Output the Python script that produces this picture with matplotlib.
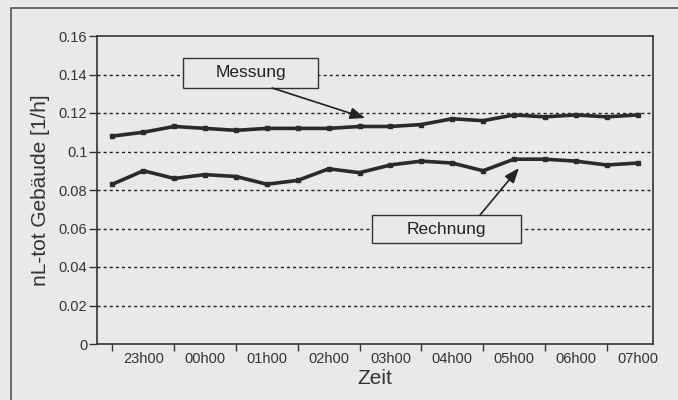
import numpy as np
import matplotlib.pyplot as plt
from matplotlib.patches import Rectangle

plt.rcParams['font.family'] = ['Liberation Sans', 'DejaVu Sans']

# Halbstundenwerte 22h30 .. 07h00
zeit = ['22h30', '23h00', '23h30', '00h00', '00h30', '01h00', '01h30', '02h00', '02h30',
        '03h00', '03h30', '04h00', '04h30', '05h00', '05h30', '06h00', '06h30', '07h00']
messung = [0.108, 0.110, 0.113, 0.112, 0.111, 0.112, 0.112, 0.112, 0.113,
           0.113, 0.114, 0.117, 0.116, 0.119, 0.118, 0.119, 0.118, 0.119]
rechnung = [0.083, 0.090, 0.086, 0.088, 0.087, 0.083, 0.085, 0.091, 0.089,
            0.093, 0.095, 0.094, 0.090, 0.096, 0.096, 0.095, 0.093, 0.094]
y_ticks = [0, 0.02, 0.04, 0.06, 0.08, 0.1, 0.12, 0.14, 0.16]
y_labels = ['0', '0.02', '0.04', '0.06', '0.08', '0.1', '0.12', '0.14', '0.16']

bg = '#e9e9e9'
fig = plt.figure(figsize=(6.78, 4.0), dpi=100, facecolor=bg)
ax = fig.add_axes([97 / 678, 1 - 344 / 400, (653 - 97) / 678, (344 - 36) / 400])
ax.set_facecolor(bg)

# äußerer Rahmen
fig.add_artist(Rectangle((11 / 678, -0.1), 1.2, 1 - 8 / 400 + 0.1, transform=fig.transFigure,
                         fill=False, edgecolor='#555555', linewidth=1.2))

x = np.arange(len(zeit))
for vals in (messung, rechnung):
    ax.plot(x, vals, color='#2a2a2a', linewidth=2.6, marker='s', markersize=3.5,
            markerfacecolor='#2a2a2a', markeredgecolor='#2a2a2a')

for yv in y_ticks[1:-1]:
    ax.axhline(yv, color='#222222', linewidth=1.0, linestyle=(0, (2.2, 2.2)), zorder=0)

ax.set_xlim(-0.5, len(zeit) - 0.5)
ax.set_ylim(0, 0.16)
ax.set_yticks(y_ticks)
ax.set_yticklabels(y_labels, fontsize=10.5, color='#333333')
ax.set_xticks(x[0::2])
ax.set_xticklabels([])
ax.set_xticks(x[1::2], minor=True)
ax.set_xticklabels(zeit[1::2], minor=True, fontsize=10.5, color='#333333')
ax.tick_params(axis='x', which='minor', length=0, pad=6)
ax.tick_params(axis='x', which='major', length=5, width=1, direction='out', color='#333333')
ax.tick_params(axis='y', length=6, width=1, direction='out', color='#333333', pad=1)
for s in ax.spines.values():
    s.set_color('#333333')
    s.set_linewidth(1.2)

ax.set_ylabel('nL-tot Gebäude [1/h]', fontsize=15, color='#333333', labelpad=6)
ax.set_xlabel('Zeit', fontsize=15, color='#333333', labelpad=2)

arrow = dict(arrowstyle='-|>,head_length=0.9,head_width=0.35', color='#222222', linewidth=1.2,
             shrinkA=0, shrinkB=0)

# Messung
ax.add_patch(Rectangle((2.28, 0.1330), 4.37, 0.0156, facecolor=bg, edgecolor='#333333',
                       linewidth=1.0, zorder=3))
ax.text(4.47, 0.1408, 'Messung', fontsize=12.5, ha='center', va='center', color='#222222', zorder=4)
ax.annotate('', xy=(8.18, 0.1174), xytext=(5.17, 0.1330), arrowprops=arrow, zorder=4)

# Rechnung
ax.add_patch(Rectangle((8.40, 0.0525), 4.83, 0.0145, facecolor=bg, edgecolor='#333333',
                       linewidth=1.0, zorder=3))
ax.text(10.81, 0.0597, 'Rechnung', fontsize=12.5, ha='center', va='center', color='#222222', zorder=4)
ax.annotate('', xy=(13.16, 0.0914), xytext=(11.90, 0.0670), arrowprops=arrow, zorder=4)

fig.savefig('out.png', dpi=100, facecolor=bg)
